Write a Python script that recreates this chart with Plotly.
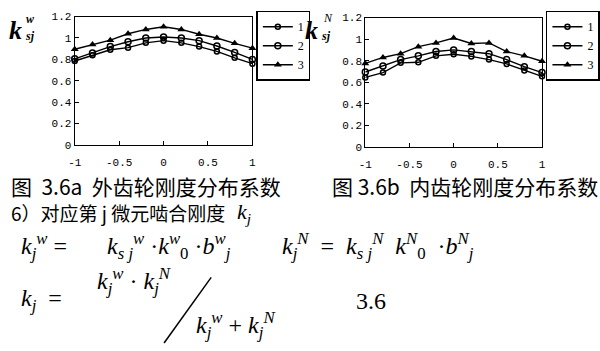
import plotly.graph_objects as go

W, H = 600, 351

x_vals = [-1, -0.8, -0.6, -0.4, -0.2, 0, 0.2, 0.4, 0.6, 0.8, 1]
series_names = ["1", "2", "3"]

outer_1 = [0.785, 0.84, 0.89, 0.91, 0.955, 0.975, 0.955, 0.92, 0.875, 0.815, 0.76]
outer_2 = [0.805, 0.86, 0.92, 0.965, 1.0, 1.01, 1.0, 0.975, 0.925, 0.865, 0.80]
outer_3 = [0.895, 0.94, 0.98, 1.04, 1.08, 1.105, 1.08, 1.035, 1.0, 0.95, 0.905]

inner_1 = [0.645, 0.69, 0.78, 0.785, 0.845, 0.86, 0.84, 0.81, 0.77, 0.71, 0.655]
inner_2 = [0.695, 0.75, 0.81, 0.845, 0.885, 0.90, 0.885, 0.865, 0.81, 0.745, 0.69]
inner_3 = [0.775, 0.83, 0.865, 0.93, 0.965, 1.01, 0.96, 0.965, 0.885, 0.845, 0.795]

y_tickvals = [0, 0.2, 0.4, 0.6, 0.8, 1, 1.2]
y_ticktext = ["0", "0.2", "0.4", "0.6", "0.8", "1", "1.2"]
x_tickvals = [-1, -0.5, 0, 0.5, 1]
x_ticktext = ["-1", "-0.5", "0", "0.5", "1"]

captions = ["图  3.6a  外齿轮刚度分布系数", "图 3.6b  内齿轮刚度分布系数"]
line_text = "6）对应第 j 微元啮合刚度"


def px(x):
    return x / W


def py(y):
    return 1 - y / H


SERIF = "Liberation Serif, Times New Roman, Times, serif"
MONO = "Liberation Mono, DejaVu Sans Mono, monospace"
CJK = "Noto Sans CJK SC"

markers = [
    dict(symbol="circle-open", size=5, line=dict(width=1.5, color="black")),
    dict(symbol="circle-open", size=6, line=dict(width=1.5, color="black")),
    dict(symbol="triangle-up", size=7, color="black"),
]

fig = go.Figure()
for i, ys in enumerate([outer_1, outer_2, outer_3]):
    fig.add_trace(go.Scatter(x=x_vals, y=ys, mode="lines+markers", name=series_names[i],
                             line=dict(color="black", width=1.4), marker=markers[i],
                             xaxis="x", yaxis="y", legend="legend", cliponaxis=False))
for i, ys in enumerate([inner_1, inner_2, inner_3]):
    fig.add_trace(go.Scatter(x=x_vals, y=ys, mode="lines+markers", name=series_names[i],
                             line=dict(color="black", width=1.4), marker=markers[i],
                             xaxis="x2", yaxis="y2", legend="legend2", cliponaxis=False))

tick_font = dict(family=MONO, size=11, color="black")
axis_common = dict(showline=True, linecolor="black", linewidth=1.2, mirror=True,
                   ticks="inside", ticklen=4, tickcolor="black", showgrid=False,
                   zeroline=False, tickfont=tick_font)

legend_common = dict(xanchor="left", yanchor="top", bordercolor="black", borderwidth=1.5,
                     bgcolor="white", font=dict(family=SERIF, size=12, color="black"),
                     itemwidth=30, tracegroupgap=0, traceorder="normal")

fig.update_layout(
    width=W, height=H, margin=dict(l=0, r=0, t=0, b=0),
    paper_bgcolor="white", plot_bgcolor="white", showlegend=True,
    xaxis=dict(domain=[px(69), px(250)], range=[-1, 1], anchor="y",
               tickvals=x_tickvals, ticktext=x_ticktext, ticklabelstandoff=7, **axis_common),
    yaxis=dict(domain=[py(145), py(12)], range=[0, 1.2], anchor="x",
               tickvals=y_tickvals, ticktext=y_ticktext, **axis_common),
    xaxis2=dict(domain=[px(365), px(545)], range=[-1, 1], anchor="y2",
                tickvals=x_tickvals, ticktext=x_ticktext, ticklabelstandoff=7, **axis_common),
    yaxis2=dict(domain=[py(147), py(13)], range=[0, 1.2], anchor="x2",
                tickvals=y_tickvals, ticktext=y_ticktext, **axis_common),
    legend=dict(x=px(254), y=py(6), **legend_common),
    legend2=dict(x=px(549), y=py(6), **legend_common),
)

anns = []


def ann(text, x, y, size, family=SERIF, xanchor="left", yanchor="middle"):
    anns.append(dict(text=text, x=px(x), y=py(y), xref="paper", yref="paper",
                     xanchor=xanchor, yanchor=yanchor, showarrow=False,
                     font=dict(family=family, size=size, color="black")))


# axis titles
ann("<b><i>k</i></b>", 0, 26, 26)
ann("<b><i>w</i></b>", 17, 14, 12)
ann("<b><i>sj</i></b>", 16, 32, 12)
ann("<b><i>k</i></b>", 302, 26, 26)
ann("<i>N</i>", 320, 13, 12)
ann("<b><i>sj</i></b>", 318, 32, 12)

# captions
ann(captions[0], 2, 187, 21, family=CJK)
ann(captions[1], 329, 187, 21, family=CJK)
ann(line_text, 2, 215, 19, family=CJK)
ann("<i>k</i><sub><i>j</i></sub>", 232, 215, 22)

# formulas
ann("<i>k</i><sub><i>j</i></sub><sup><i>w</i></sup> =", 12, 250, 24)
ann("<i>k</i><sub><i>s j</i></sub><sup><i>w</i></sup> ·<i>k</i><sup><i>w</i></sup><sub>0</sub> ·<i>b</i><sup><i>w</i></sup><sub><i>j</i></sub>",
    100, 250, 24)
ann("<i>k</i><sub><i>j</i></sub><sup><i>N</i></sup>  =  <i>k</i><sub><i>s j</i></sub><sup><i>N</i></sup>  <i>k</i><sup><i>N</i></sup><sub>0</sub>  ·<i>b</i><sup><i>N</i></sup><sub><i>j</i></sub>",
    278, 250, 24)
ann("<i>k</i><sub><i>j</i></sub>  =", 12, 305, 24)
ann("<i>k</i><sub><i>j</i></sub><sup><i>w</i></sup> · <i>k</i><sub><i>j</i></sub><sup><i>N</i></sup>", 90, 286, 24)
ann("<i>k</i><sub><i>j</i></sub><sup><i>w</i></sup> + <i>k</i><sub><i>j</i></sub><sup><i>N</i></sup>", 190, 331, 24)
ann("3.6", 353, 306, 24)

fig.update_layout(annotations=anns)
fig.add_shape(type="line", xref="paper", yref="paper",
              x0=px(208), y0=py(282), x1=px(160), y1=py(350),
              line=dict(color="black", width=1.5))

fig.write_html("out.html")
